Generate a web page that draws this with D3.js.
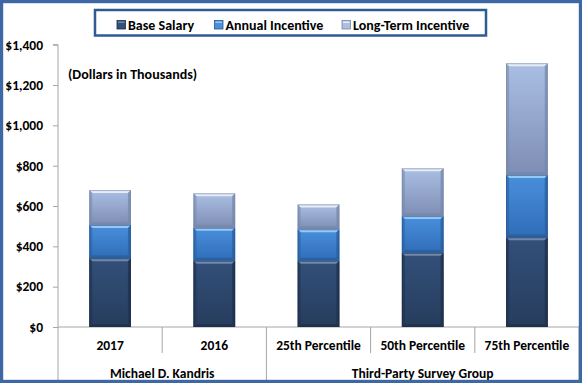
<!DOCTYPE html>
<html><head><meta charset="utf-8">
<script src="https://cdn.jsdelivr.net/npm/d3@7"></script>
<style>
html,body{margin:0;padding:0;background:#fff;}
svg text{font-family:Carlito,Calibri,Lato,"Open Sans",sans-serif;font-weight:bold;fill:#000;}
</style></head>
<body>
<svg id="chart" width="582" height="383"></svg>
<script>
const categories = ["2017", "2016", "25th Percentile", "50th Percentile", "75th Percentile"];
const groupNames = ["Michael D. Kandris", "Third-Party Survey Group"];
const groupSizes = [2, 3];
const seriesNames = ["Base Salary", "Annual Incentive", "Long-Term Incentive"];
const baseSalary = [341, 329, 329, 368, 445];
const annualIncentive = [165, 163, 156, 182, 309];
const longTermIncentive = [173, 171, 123, 237, 554];
const yTicks = [0, 200, 400, 600, 800, 1000, 1200, 1400];
const noteText = "(Dollars in Thousands)";

const W = 582, H = 383;
const svg = d3.select("#chart");
const defs = svg.append("defs");

const palette = [
  {top:"#33507a", bot:"#263c5c", hi:"#7088ab", side:"#1f3250", edge:"#1c2c44"},
  {top:"#4a8fdc", bot:"#2f6db8", hi:"#93c9f7", side:"#2a5f9f", edge:"#2a5590"},
  {top:"#aabfe3", bot:"#7e8db3", hi:"#e6edf8", side:"#7688ad", edge:"#7a86a0"}
];
palette.forEach((p,i)=>{
  const g = defs.append("linearGradient").attr("id","g"+i).attr("x1",0).attr("x2",0).attr("y1",0).attr("y2",1);
  g.append("stop").attr("offset","0%").attr("stop-color",p.top);
  g.append("stop").attr("offset","100%").attr("stop-color",p.bot);
});

const x = d3.scaleBand().domain(categories).range([58, 579]).paddingInner(0.6).paddingOuter(0.3);
const y = d3.scaleLinear().domain([0, 1400]).range([327, 44.7]);

// y axis
const yAxis = svg.append("g").attr("transform","translate(58,0)")
  .call(d3.axisLeft(y).tickValues(yTicks).tickSize(5).tickPadding(10).tickFormat(d => "$" + d3.format(",")(d)));
yAxis.select(".domain").attr("stroke","#a6a6a6").attr("d","M-5,"+y(1400)+"H0V"+y(0));
yAxis.selectAll(".tick line").attr("stroke","#a6a6a6");
yAxis.selectAll(".tick text").attr("font-size",13.5).attr("font-weight","bold")
  .style("font-family","Carlito,Calibri,Lato,sans-serif").attr("fill","#000");

// baseline and separators
svg.append("line").attr("x1",58).attr("x2",579).attr("y1",y(0)).attr("y2",y(0)).attr("stroke","#a6a6a6");
const step = x.step();
const bounds = d3.range(categories.length + 1).map(i => x.range()[0] + i * step);
const groupBounds = d3.cumsum([0].concat(groupSizes));
bounds.forEach((b,i)=>{
  const isGroup = groupBounds.includes(i);
  svg.append("line").attr("x1",b).attr("x2",b).attr("y1",y(0))
    .attr("y2", isGroup ? 383 : 353).attr("stroke","#a6a6a6");
});
svg.selectAll(".cat").data(categories).enter().append("text")
  .attr("x", d => x(d) + x.bandwidth()/2).attr("y", 350)
  .attr("text-anchor","middle").attr("font-size",13.5).text(d=>d);
groupNames.forEach((g,i)=>{
  const x0 = bounds[groupBounds[i]], x1 = bounds[groupBounds[i+1]];
  svg.append("text").attr("x",(x0+x1)/2).attr("y",377.5).attr("text-anchor","middle")
    .attr("font-size",13.5).text(g);
});

// note
svg.append("text").attr("x",68).attr("y",79).attr("font-size",14).text(noteText);

// stacked bars
const rows = categories.map((c,i)=>({cat:c, s0:baseSalary[i], s1:annualIncentive[i], s2:longTermIncentive[i]}));
const stack = d3.stack().keys(["s0","s1","s2"])(rows);
const b = 3;
stack.forEach((layer, si)=>{
  const p = palette[si];
  const g = svg.append("g");
  layer.forEach(d=>{
    const x0 = x(d.data.cat), w = x.bandwidth();
    const y0 = y(d[1]), h = y(d[0]) - y(d[1]);
    const seg = g.append("g");
    seg.append("rect").attr("x",x0).attr("y",y0).attr("width",w).attr("height",h).attr("fill","url(#g"+si+")");
    seg.append("polygon").attr("points",[[x0,y0],[x0+w,y0],[x0+w-b,y0+b],[x0+b,y0+b]].join(" ")).attr("fill",p.hi);
    seg.append("polygon").attr("points",[[x0,y0],[x0+b,y0+b],[x0+b,y0+h-b],[x0,y0+h]].join(" ")).attr("fill",p.side).attr("opacity",0.55);
    seg.append("polygon").attr("points",[[x0+w,y0],[x0+w-b,y0+b],[x0+w-b,y0+h-b],[x0+w,y0+h]].join(" ")).attr("fill",p.side).attr("opacity",0.75);
    seg.append("polygon").attr("points",[[x0,y0+h],[x0+b,y0+h-b],[x0+w-b,y0+h-b],[x0+w,y0+h]].join(" ")).attr("fill",p.side).attr("opacity",0.8);
    seg.append("rect").attr("x",x0+0.5).attr("y",y0+0.5).attr("width",w-1).attr("height",h-1)
      .attr("fill","none").attr("stroke",p.edge).attr("stroke-opacity",0.6).attr("stroke-width",1);
  });
});

// legend
svg.append("rect").attr("x",95).attr("y",10).attr("width",391).attr("height",25.5)
  .attr("fill","#fff").attr("stroke","#2f5b94").attr("stroke-width",2.5);
const legX = [117, 214.5, 342];
seriesNames.forEach((n,i)=>{
  const p = palette[i];
  svg.append("rect").attr("x",legX[i]).attr("y",20.5).attr("width",8.5).attr("height",8.5)
    .attr("fill",p.top).attr("stroke",p.edge).attr("stroke-width",0.8);
  svg.append("rect").attr("x",legX[i]+1).attr("y",21.5).attr("width",6.5).attr("height",1.5).attr("fill",p.hi);
  svg.append("text").attr("x",legX[i]+11).attr("y",29.5).attr("font-size",14).text(n);
});

// outer frame
svg.append("rect").attr("x",1.6).attr("y",1.6).attr("width",W-3.2).attr("height",H-3.2)
  .attr("fill","none").attr("stroke","#3d68a3").attr("stroke-width",3.2);
</script>
</body></html>
